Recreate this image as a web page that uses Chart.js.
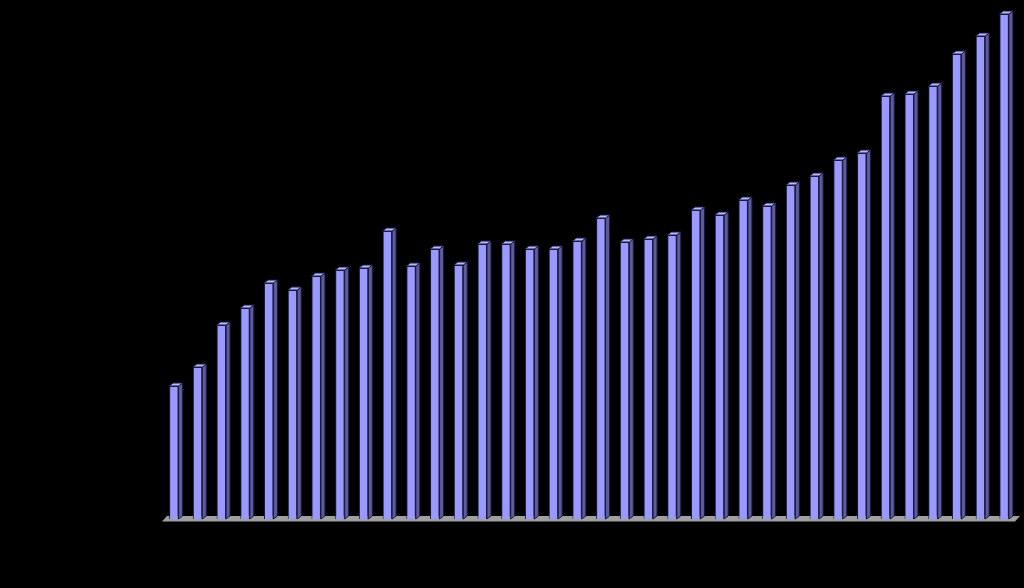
<!DOCTYPE html>
<html>
<head>
<meta charset="utf-8">
<script src="https://cdn.jsdelivr.net/npm/chart.js@4"></script>
<style>
html,body{margin:0;padding:0;background:#000;}
#wrap{width:1024px;height:588px;}
</style>
</head>
<body>
<div id="wrap"><canvas id="c" width="1024" height="588"></canvas></div>
<script>
const categories = ["1","2","3","4","5","6","7","8","9","10","11","12","13","14","15","16","17","18","19","20","21","22","23","24","25","26","27","28","29","30","31","32","33","34","35","36"];
const values = [133,152,194,211,236,229,243,249,251,288,253,270,254,275,275,270,270,278,301,277,280,284,309,304,319,313,334,343,359,366,423,425,433,465,483,505];
const yMax = 519;

const DX = 4, DY = 3;
const bar3d = {
  id: 'bar3d',
  beforeDatasetsDraw(chart) {
    const ctx = chart.ctx, a = chart.chartArea;
    const base = chart.scales.y.getPixelForValue(0);
    ctx.save();
    ctx.fillStyle = '#a0a0a0';
    ctx.beginPath();
    ctx.moveTo(a.left, base + 2.5);
    ctx.lineTo(a.left + DX + 1, base - DY);
    ctx.lineTo(a.right + DX, base - DY);
    ctx.lineTo(a.right - 1, base + 2.5);
    ctx.closePath();
    ctx.fill();
    ctx.restore();
  },
  afterDatasetsDraw(chart) {
    const ctx = chart.ctx;
    const meta = chart.getDatasetMeta(0);
    ctx.save();
    ctx.lineWidth = 1;
    ctx.strokeStyle = '#1a1a40';
    meta.data.forEach(el => {
      const p = el.getProps(['x','y','base','width'], true);
      const l = p.x - p.width / 2, r = p.x + p.width / 2;
      ctx.fillStyle = '#5c5c99';
      ctx.beginPath();
      ctx.moveTo(r, p.y);
      ctx.lineTo(r + DX, p.y - DY);
      ctx.lineTo(r + DX, p.base - DY);
      ctx.lineTo(r, p.base);
      ctx.closePath();
      ctx.fill(); ctx.stroke();
      ctx.fillStyle = '#b8b8ff';
      ctx.beginPath();
      ctx.moveTo(l, p.y);
      ctx.lineTo(l + DX, p.y - DY);
      ctx.lineTo(r + DX, p.y - DY);
      ctx.lineTo(r, p.y);
      ctx.closePath();
      ctx.fill(); ctx.stroke();
    });
    ctx.restore();
  }
};

new Chart(document.getElementById('c'), {
  type: 'bar',
  data: {
    labels: categories,
    datasets: [{
      data: values,
      backgroundColor: '#9999ff',
      borderColor: '#1a1a40',
      borderWidth: 1,
      barPercentage: 0.4,
      categoryPercentage: 1
    }]
  },
  options: {
    responsive: false,
    animation: false,
    events: [],
    layout: { padding: { left: 162, right: 8, top: 0, bottom: 69 } },
    plugins: { legend: { display: false }, tooltip: { enabled: false } },
    scales: {
      x: { display: false },
      y: { display: false, min: 0, max: yMax }
    }
  },
  plugins: [bar3d, {
    id: 'bg',
    beforeDraw(chart) {
      const ctx = chart.ctx;
      ctx.save();
      ctx.fillStyle = '#000';
      ctx.fillRect(0, 0, chart.width, chart.height);
      ctx.restore();
    }
  }]
});
</script>
</body>
</html>
